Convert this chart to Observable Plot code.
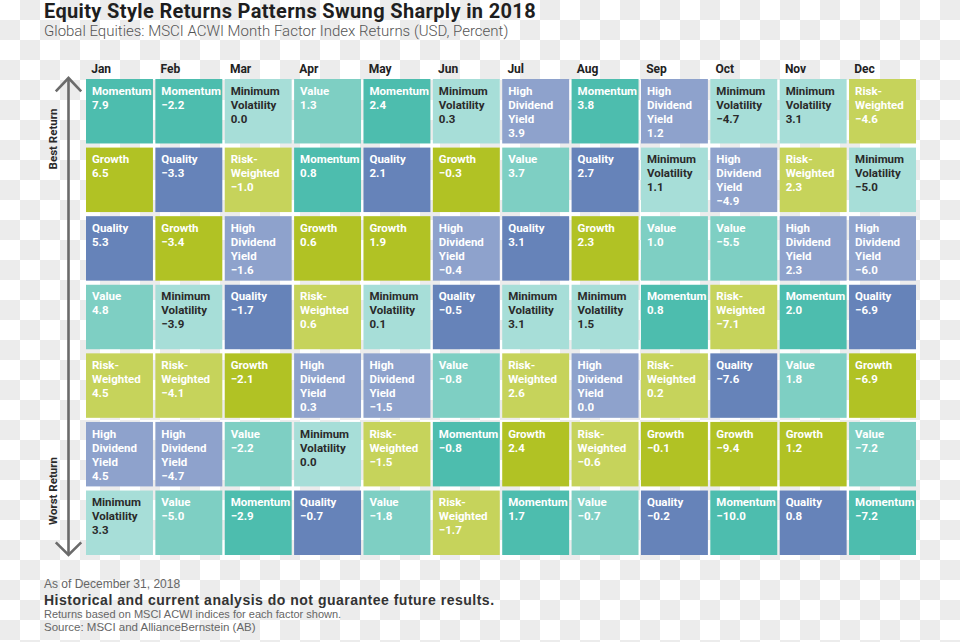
<!DOCTYPE html>
<html>
<head>
<meta charset="utf-8">
<script src="https://cdn.jsdelivr.net/npm/d3@7"></script>
<script src="https://cdn.jsdelivr.net/npm/@observablehq/plot@0.6"></script>
<style>
  html, body { margin: 0; padding: 0; }
  body {
    width: 960px; height: 642px; position: relative; overflow: hidden;
    background-color: #fff;
    background-image: url("data:image/svg+xml,%3Csvg xmlns='http://www.w3.org/2000/svg' width='40' height='40'%3E%3Crect x='20' y='0' width='20' height='20' fill='%23ececec'/%3E%3Crect x='0' y='20' width='20' height='20' fill='%23ececec'/%3E%3C/svg%3E");
    background-size: 40px 40px;
    font-family: Roboto, "Open Sans", sans-serif;
  }
  .abs { position: absolute; left: 44px; white-space: nowrap; }
  #title { top: 1px; font-size: 20px; line-height: 20px; font-weight: 700; color: #1f1f1f; letter-spacing: 0.35px; }
  #subtitle { top: 24px; font-size: 15px; line-height: 15px; font-weight: 300; color: #555; letter-spacing: 0; }
  #chart { position: absolute; left: 0; top: 56px; }
  .foot { font-family: "Liberation Sans", Arial, sans-serif; }
  #asof { top: 578px; font-size: 12px; line-height: 12px; color: #666; }
  #disc { top: 593px; font-size: 14px; line-height: 14px; font-weight: 700; color: #333; letter-spacing: 0.5px; }
  #note { top: 608.5px; font-size: 11px; line-height: 11px; color: #666; }
  #src { top: 621.5px; font-size: 11.5px; line-height: 11.5px; color: #666; }
</style>
</head>
<body>
<div id="title" class="abs">Equity Style Returns Patterns Swung Sharply in 2018</div>
<div id="subtitle" class="abs">Global Equities: MSCI ACWI Month Factor Index Returns (USD, Percent)</div>
<div id="chart"></div>
<div id="asof" class="abs foot">As of December 31, 2018</div>
<div id="disc" class="abs foot">Historical and current analysis do not guarantee future results.</div>
<div id="note" class="abs foot">Returns based on MSCI ACWI indices for each factor shown.</div>
<div id="src" class="abs foot">Source: MSCI and AllianceBernstein (AB)</div>
<script>
// ---- data ----
const months = ["Jan","Feb","Mar","Apr","May","Jun","Jul","Aug","Sep","Oct","Nov","Dec"];
const factors = ["Momentum","Growth","Quality","Value","Risk-Weighted","High Dividend Yield","Minimum Volatility"];
const factorColors = ["#4dbdae","#b1c224","#6683b9","#7ecfc3","#c6d35b","#8ea2cc","#a7ded8"];
const factorLabels = ["Momentum","Growth","Quality","Value","Risk-\nWeighted","High\nDividend\nYield","Minimum\nVolatility"];
// M=Momentum G=Growth Q=Quality V=Value R=Risk-Weighted H=High Dividend Yield L=Minimum Volatility
const rankOrder = [
  ["M","G","Q","V","R","H","L"], // Jan
  ["M","Q","G","L","R","H","V"], // Feb
  ["L","R","H","Q","G","V","M"], // Mar
  ["V","M","G","R","H","L","Q"], // Apr
  ["M","Q","G","L","H","R","V"], // May
  ["L","G","H","Q","V","M","R"], // Jun
  ["H","V","Q","L","R","G","M"], // Jul
  ["M","Q","G","L","H","R","V"], // Aug
  ["H","L","V","M","R","G","Q"], // Sep
  ["L","H","V","R","Q","G","M"], // Oct
  ["L","R","H","M","V","G","Q"], // Nov
  ["R","L","H","Q","G","V","M"]  // Dec
];
const rankReturns = [
  [7.9, 6.5, 5.3, 4.8, 4.5, 4.5, 3.3],
  [-2.2, -3.3, -3.4, -3.9, -4.1, -4.7, -5.0],
  [0.0, -1.0, -1.6, -1.7, -2.1, -2.2, -2.9],
  [1.3, 0.8, 0.6, 0.6, 0.3, 0.0, -0.7],
  [2.4, 2.1, 1.9, 0.1, -1.5, -1.5, -1.8],
  [0.3, -0.3, -0.4, -0.5, -0.8, -0.8, -1.7],
  [3.9, 3.7, 3.1, 3.1, 2.6, 2.4, 1.7],
  [3.8, 2.7, 2.3, 1.5, 0.0, -0.6, -0.7],
  [1.2, 1.1, 1.0, 0.8, 0.2, -0.1, -0.2],
  [-4.7, -4.9, -5.5, -7.1, -7.6, -9.4, -10.0],
  [3.1, 2.3, 2.3, 2.0, 1.8, 1.2, 0.8],
  [-4.6, -5.0, -6.0, -6.9, -6.9, -7.2, -7.2]
];
const ranks = [1, 2, 3, 4, 5, 6, 7];
const codeIndex = {M: 0, G: 1, Q: 2, V: 3, R: 4, H: 5, L: 6};

// ---- build table ----
const fmt = d3.format(".1f");
const cells = [];
months.forEach((m, i) => {
  rankOrder[i].forEach((code, j) => {
    const k = codeIndex[code];
    cells.push({month: m, rank: ranks[j], factor: factors[k], value: rankReturns[i][j],
                label: factorLabels[k] + "\n" + fmt(rankReturns[i][j])});
  });
});

// ---- layout ----
const W = 960, H = 510;
const mL = 86, mR = 44, mT = 23, mB = 11;
const pX = 0.035, pY = 0.06;
const bwX = (W - mL - mR) / (months.length - pX) * (1 - pX);
const bwY = (H - mT - mB) / (ranks.length - pY) * (1 - pY);

const textOpts = {
  x: "month", y: "rank", text: "label",
  textAnchor: "start", lineAnchor: "top", lineHeight: 14 / 11.5,
  fontSize: 11.5, fontWeight: 700, fontFamily: "Roboto, sans-serif",
  dx: -bwX / 2 + 5.5, dy: -bwY / 2 + 5.2
};

const plot = Plot.plot({
  width: W, height: H,
  marginLeft: mL, marginRight: mR, marginTop: mT, marginBottom: mB,
  style: {background: "transparent", overflow: "visible"},
  x: {domain: months, paddingInner: pX, paddingOuter: 0, round: false, axis: null},
  y: {domain: ranks, paddingInner: pY, paddingOuter: 0, round: false, axis: null},
  color: {domain: factors, range: factorColors},
  marks: [
    Plot.cell(cells, {x: "month", y: "rank", fill: "factor"}),
    Plot.text(cells.filter(d => d.factor !== "Minimum Volatility"), {...textOpts, fill: "white"}),
    Plot.text(cells.filter(d => d.factor === "Minimum Volatility"), {...textOpts, fill: "#2a2a2a"}),
    Plot.text(months, {
      x: d => d, frameAnchor: "top", text: d => d, fill: "#222",
      textAnchor: "start", lineAnchor: "bottom",
      fontSize: 12, fontWeight: 700, fontFamily: "Roboto, sans-serif",
      dx: -bwX / 2 + 4.7, dy: -6.5
    })
  ]
});
document.getElementById("chart").appendChild(plot);

// ---- rank direction arrow and labels (positioned from the y scale) ----
const yr = plot.scale("y").range;
const svg = d3.select(plot);
const ax = 68.5, yTop = yr[0] - 1, yBot = yr[1];
const g = svg.append("g").attr("fill", "none").attr("stroke", "#6b6b6b")
  .attr("stroke-width", 2.6);
g.append("line").attr("x1", ax).attr("x2", ax).attr("y1", yTop + 1).attr("y2", yBot - 1);
g.append("path").attr("d", `M${ax - 12.7},${yTop + 13.3}L${ax},${yTop}L${ax + 12.7},${yTop + 13.3}`);
g.append("path").attr("d", `M${ax - 12.7},${yBot - 12.7}L${ax},${yBot}L${ax + 12.7},${yBot - 12.7}`);
const lab = svg.append("g").attr("font-family", "Roboto, sans-serif").attr("font-size", 11.5)
  .attr("font-weight", 700).attr("fill", "#2a2a2a").attr("text-anchor", "middle");
lab.append("text").attr("transform", `translate(57,${yTop + 61}) rotate(-90)`).text("Best Return");
lab.append("text").attr("transform", `translate(57,${yBot - 64}) rotate(-90)`).text("Worst Return");
</script>
</body>
</html>
